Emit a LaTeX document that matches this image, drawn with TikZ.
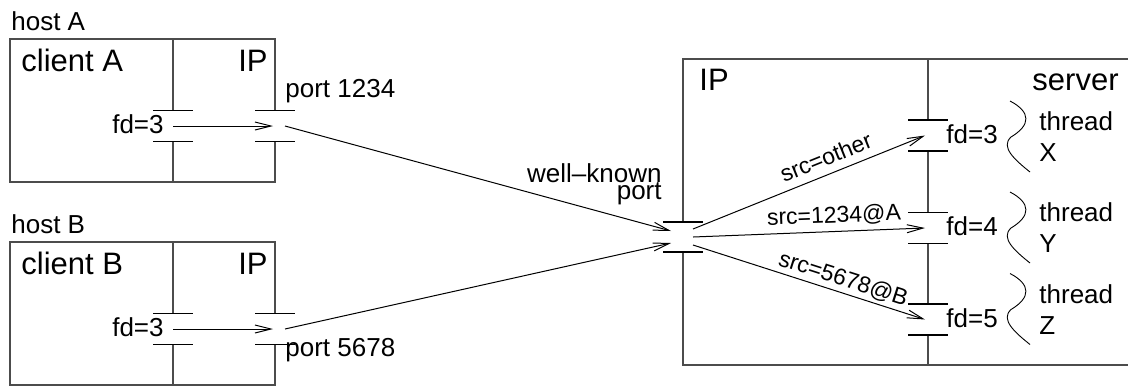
\documentclass[tikz,border=0pt]{standalone}
\usepackage{fontspec}
\setmainfont{Liberation Sans}
\usetikzlibrary{arrows.meta,calc,positioning}

\tikzset{
  wall/.style={draw=black!70,line width=0.55pt},
  gapbar/.style={draw=black,line width=0.55pt},
  flow/.style={line width=0.5pt,-{Straight Barb[length=8pt,width=4pt]}},
  wave/.style={line width=0.45pt},
  bigtxt/.style={font=\fontsize{15.5}{18}\selectfont,inner sep=0pt},
  midtxt/.style={font=\fontsize{13}{15.5}\selectfont,inner sep=0pt},
  smalltxt/.style={font=\fontsize{11.5}{13}\selectfont,inner sep=0pt}
}

\begin{document}
\begin{tikzpicture}[x=0.5pt,y=-0.5pt]
\useasboundingbox (0,0) rectangle (1128,387);

% client hosts
\foreach \h/\oy in {A/0,B/203}{
  \coordinate (fd\h) at (173,126+\oy);
  \coordinate (ip\h) at (275,126+\oy);
  \coordinate (out\h) at (285,126+\oy);
  \draw[wall] (275,110.5+\oy) -- (275,39+\oy) -- (10,39+\oy) -- (10,182+\oy)
    -- (275,182+\oy) -- (275,141.5+\oy);
  \draw[wall] (173,39+\oy) -- (173,110.5+\oy) (173,141.5+\oy) -- (173,182+\oy);
  \draw[gapbar] (fd\h) ++(-20,-15.5) -- ++(40,0) (fd\h) ++(-20,15.5) -- ++(40,0);
  \draw[gapbar] (ip\h) ++(-20,-15.5) -- ++(40,0) (ip\h) ++(-20,15.5) -- ++(40,0);
  \node[midtxt,anchor=base west] (host\h) at (11,30+\oy) {host \h};
  \node[bigtxt,anchor=base west] (client\h) at (21,71+\oy) {client \h};
  \node[bigtxt,anchor=base east] (iplab\h) at (268,71+\oy) {IP};
  \node[midtxt,anchor=base east] (fdlab\h) at (164,133+\oy) {fd=3};
  \draw[flow,shorten >=1pt] (fd\h) -- (ip\h);
}
\node[midtxt,anchor=base west] (portA) at (285,97) {port 1234};
\node[midtxt,anchor=base west] (portB) at (285,356) {port 5678};

% server host
\coordinate (wk) at (683,237);
\draw[wall] (683,221.5) -- (683,59) -- (1132,59);
\draw[wall] (1132,365) -- (683,365) -- (683,252.5);
\draw[wall] (928,59) -- (928,120) (928,151) -- (928,212.5)
  (928,243.5) -- (928,304) (928,335) -- (928,365);
\draw[gapbar] (wk) ++(-20,-15) -- ++(40,0) (wk) ++(-20,15) -- ++(40,0);
\node[bigtxt,anchor=base west] (iplabS) at (699,90) {IP};
\node[bigtxt,anchor=base east] (server) at (1119,90) {server};
\node[midtxt,anchor=base east] (wk1) at (662,182) {well--known};
\node[midtxt,anchor=base east] (wk2) at (662,199) {port};

\coordinate (inA) at (671,231);
\coordinate (inB) at (671,243);
\draw[flow] (outA) -- (inA);
\draw[flow] (outB) -- (inB);

% accepted sockets and threads
\foreach \n/\t/\y/\ty in {3/X/135.5/137,4/Y/228/228,5/Z/319.5/309.5}{
  \coordinate (sfd\n) at (928,\y);
  \coordinate (tip\n) at (925,\y);
  \draw[gapbar] (sfd\n) ++(-20,-15.5) -- ++(40,0) (sfd\n) ++(-20,15.5) -- ++(40,0);
  \node[midtxt,anchor=base west] (sfdlab\n) at (946,\y+7.5) {fd=\n};
  \draw[wave] (1010,\ty-36) .. controls (1031,\ty-25) and (1031,\ty-12) .. (1011,\ty)
    .. controls (1000,\ty+10) and (1015,\ty+23) .. (1030,\ty+35);
  \node[midtxt,align=left,anchor=west] (thr\t) at (1039,\ty) {thread\\\t};
}

\coordinate (srcX) at (693,229);
\coordinate (srcY) at (693,237);
\coordinate (srcZ) at (693,245);
\draw[flow] (srcX) -- node[smalltxt,sloped,above=4pt,pos=0.6] {src=other} (tip3);
\draw[flow] (srcY) -- node[smalltxt,sloped,above=2.5pt,pos=0.61] {src=1234@A} (tip4);
\draw[flow] (srcZ) -- node[smalltxt,sloped,above=1.5pt,pos=0.63] {src=5678@B} (tip5);
\end{tikzpicture}
\end{document}
